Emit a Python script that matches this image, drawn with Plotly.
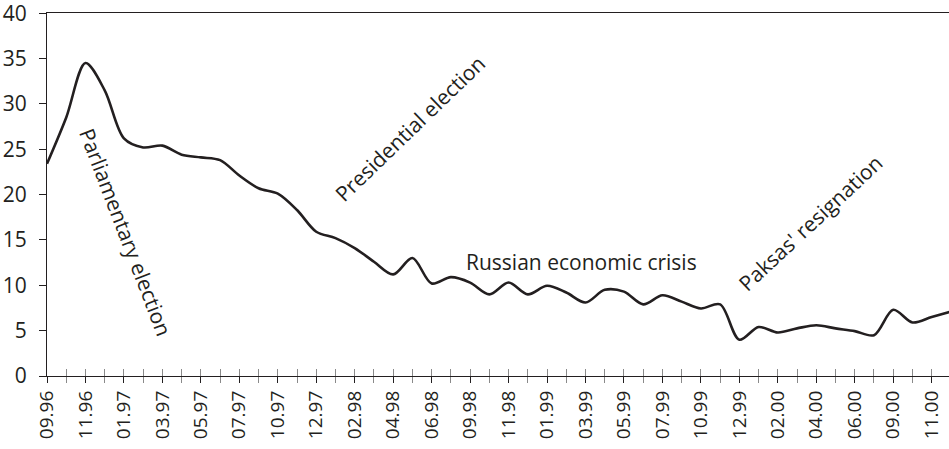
import plotly.graph_objects as go

# Tick labels (every second period position is labelled)
tick_labels = ["09.96", "11.96", "01.97", "03.97", "05.97", "07.97", "10.97", "12.97",
               "02.98", "04.98", "06.98", "09.98", "11.98", "01.99", "03.99", "05.99",
               "07.99", "10.99", "12.99", "02.00", "04.00", "06.00", "09.00", "11.00"]

# Series values, one per period position
values = [23.4, 28.5, 34.5, 31.5, 26.2, 25.2, 25.4, 24.4, 24.1, 23.8,
          22.1, 20.7, 20.1, 18.3, 15.9, 15.2, 14.1, 12.6, 11.2, 13.0,
          10.2, 10.9, 10.3, 9.0, 10.3, 9.0, 9.95, 9.2, 8.1, 9.5,
          9.3, 7.9, 8.9, 8.2, 7.45, 7.9, 4.0, 5.4, 4.8, 5.25,
          5.6, 5.25, 4.95, 4.5, 7.3, 5.9, 6.5, 7.1]

# Y axis tick values
y_ticks = [0, 5, 10, 15, 20, 25, 30, 35, 40]

# Event annotations: text, position (period index, value), angle
events = ["Parliamentary election", "Presidential election",
          "Russian economic crisis", "Paksas' resignation"]
event_x = [4.1, 18.9, 27.77, 39.68]
event_y = [15.9, 27.3, 12.56, 16.86]
event_angle = [69, -44, 0, -43]

INK = "#231f20"
FONT = "Open Sans"

positions = list(range(len(values)))
label_positions = positions[::2][:len(tick_labels)]
x_range = [0, 46.9]

fig = go.Figure()
fig.add_trace(go.Scatter(
    x=positions, y=values, mode="lines",
    line=dict(color=INK, width=2.6, shape="spline", smoothing=0.9),
    hoverinfo="skip", showlegend=False, cliponaxis=True))
# invisible trace to carry the second (inside-tick) x axis
fig.add_trace(go.Scatter(
    x=positions, y=values, mode="lines", xaxis="x2",
    line=dict(color="rgba(0,0,0,0)", width=0),
    hoverinfo="skip", showlegend=False))

for t, ex, ey, ang in zip(events, event_x, event_y, event_angle):
    fig.add_annotation(x=ex, y=ey, text=t, textangle=ang, showarrow=False,
                       xanchor="center", yanchor="middle",
                       font=dict(family=FONT, size=21, color=INK))

fig.update_layout(
    width=949, height=449,
    margin=dict(l=47, r=0, t=13, b=73, autoexpand=False),
    paper_bgcolor="white", plot_bgcolor="white",
    font=dict(family=FONT, color=INK),
    xaxis=dict(
        range=x_range, showgrid=False, zeroline=False, automargin=False,
        showline=True, linecolor=INK, linewidth=1.3, mirror=True,
        tickmode="array", tickvals=label_positions, ticktext=tick_labels,
        ticks="outside", ticklen=6, tickwidth=1.2, tickcolor=INK,
        tickangle=-90, tickfont=dict(family=FONT, size=19, color=INK),
        ticklabeloverflow="allow",
        minor=dict(dtick=1, tick0=0, ticks="outside", ticklen=6,
                   tickwidth=1.2, tickcolor="#8a8a8a"),
    ),
    xaxis2=dict(
        range=x_range, overlaying="x", side="bottom", anchor="y",
        showgrid=False, zeroline=False, showline=False, automargin=False,
        tickmode="array", tickvals=label_positions, ticktext=[""] * len(label_positions),
        showticklabels=False,
        ticks="inside", ticklen=7, tickwidth=1.2, tickcolor=INK,
        minor=dict(dtick=1, tick0=0, ticks="inside", ticklen=7,
                   tickwidth=1.2, tickcolor="#8a8a8a"),
    ),
    yaxis=dict(
        range=[0, 40.02], tickmode="array", tickvals=y_ticks,
        showgrid=False, zeroline=False, automargin=False,
        showline=True, linecolor=INK, linewidth=1.3,
        ticks="outside", ticklen=7, tickwidth=1.2, tickcolor=INK,
        tickfont=dict(family=FONT, size=21, color=INK),
        ticklabelstandoff=8, ticklabeloverflow="allow",
    ),
)

fig.write_html("out.html", config={"displayModeBar": False})

# remove the browser's default page margin so the figure sits at the window origin
with open("out.html", "r", encoding="utf-8") as fh:
    html = fh.read()
html = html.replace("<head>", "<head><style>html,body{margin:0;padding:0;overflow:hidden;}</style>", 1)
with open("out.html", "w", encoding="utf-8") as fh:
    fh.write(html)
